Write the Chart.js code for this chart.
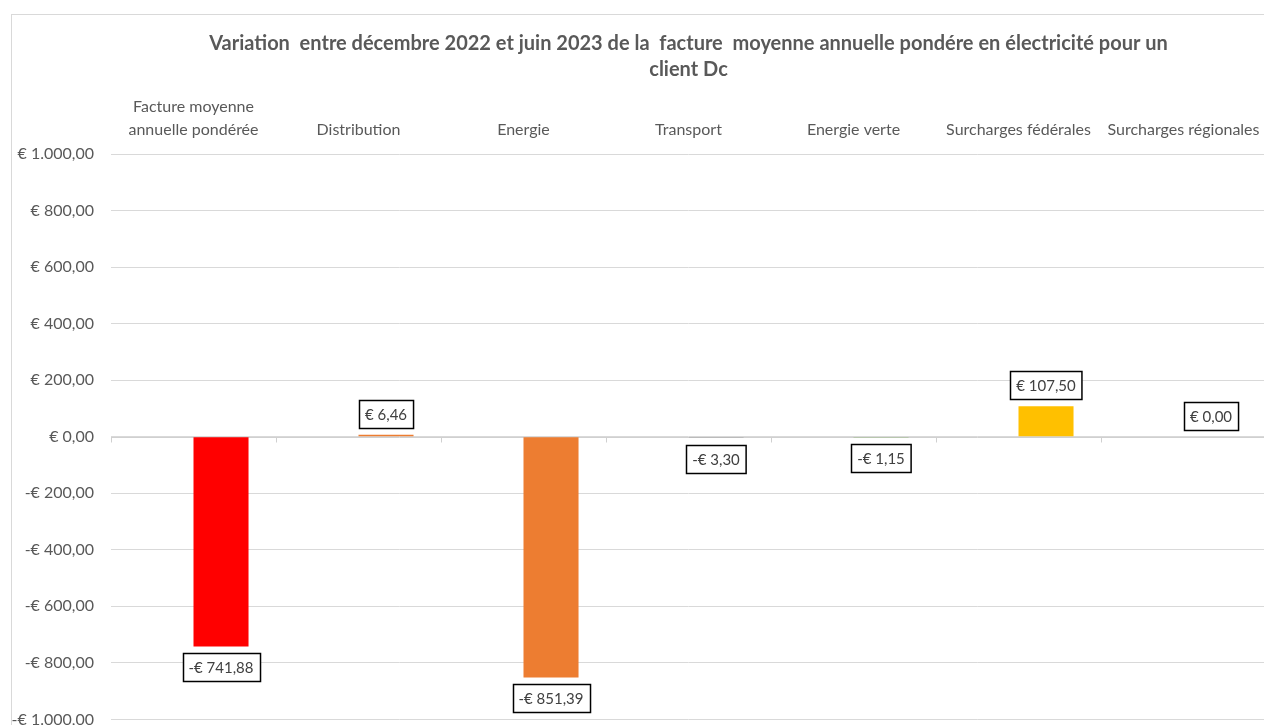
<!DOCTYPE html>
<html lang="fr">
<head>
    <meta charset="UTF-8">
    <title>Variation facture électricité client Dc</title>
    <script src="https://cdn.jsdelivr.net/npm/chart.js"></script>
    <style>
        html, body {
            margin: 0;
            padding: 0;
            background: #ffffff;
            overflow: hidden;
        }
        #wrap {
            width: 1280px;
            height: 746px;
        }
    </style>
</head>
<body>
    <div id="wrap">
        <canvas id="chartCanvas" width="1280" height="746"></canvas>
    </div>

    <script>
        // data
        const categories = [
            ['Facture moyenne', 'annuelle pondérée'],
            'Distribution',
            'Energie',
            'Transport',
            'Energie verte',
            'Surcharges fédérales',
            'Surcharges régionales'
        ];
        const variation = [-741.88, 6.46, -851.39, -3.30, -1.15, 107.50, 0.00];
        const emptySeries = [null, null, null, null, null, null, null];
        const barColors = ['#ff0000', '#ed7d31', '#ed7d31', '#a5a5a5', '#70ad47', '#ffc000', '#5b9bd5'];
        const yMin = -1000;
        const yMax = 1000;
        const yStep = 200;

        const titleLines = [
            'Variation  entre décembre 2022 et juin 2023 de la  facture  moyenne annuelle pondére en électricité pour un',
            'client Dc'
        ];

        const FONT = 'Lato, "Open Sans", sans-serif';

        // € 1.000,00 / -€ 741,88
        function euro(v) {
            const neg = v < 0;
            const parts = Math.abs(v).toFixed(2).split('.');
            const whole = parts[0].replace(/\B(?=(\d{3})+(?!\d))/g, '.');
            return (neg ? '-' : '') + '€ ' + whole + ',' + parts[1];
        }

        // light frame around the chart (right/bottom sides fall outside the shot)
        const framePlugin = {
            id: 'frame',
            beforeDraw(chart) {
                const ctx = chart.ctx;
                ctx.save();
                ctx.strokeStyle = '#d9d9d9';
                ctx.lineWidth = 1;
                ctx.strokeRect(11.5, 14.5, chart.width + 100, chart.height + 100);
                ctx.restore();
            }
        };

        // horizontal axis line at zero with small tick marks between categories
        const zeroAxisPlugin = {
            id: 'zeroAxis',
            beforeDatasetsDraw(chart) {
                const ctx = chart.ctx;
                const x = chart.scales.x;
                const y0 = Math.round(chart.scales.y.getPixelForValue(0)) + 0.5;
                ctx.save();
                ctx.strokeStyle = '#d0d0d0';
                ctx.lineWidth = 1;
                ctx.beginPath();
                ctx.moveTo(chart.chartArea.left, y0);
                ctx.lineTo(chart.chartArea.right, y0);
                for (let i = 0; i <= categories.length; i++) {
                    const px = Math.round(x.getPixelForValue(i - 0.5)) + 0.5;
                    ctx.moveTo(px, y0);
                    ctx.lineTo(px, y0 + 5);
                }
                ctx.stroke();
                ctx.restore();
            }
        };

        // boxed value labels
        const boxLabelPlugin = {
            id: 'boxLabels',
            afterDatasetsDraw(chart) {
                const ctx = chart.ctx;
                const meta = chart.getDatasetMeta(1);
                ctx.save();
                ctx.font = '15px ' + FONT;
                ctx.textAlign = 'center';
                ctx.textBaseline = 'middle';
                meta.data.forEach((bar, i) => {
                    const v = variation[i];
                    const txt = euro(v);
                    const w = ctx.measureText(txt).width + 12;
                    const h = 28;
                    const gap = 7;
                    const barLen = Math.abs(bar.base - bar.y);
                    let top;
                    if (v < 0) {
                        top = Math.max(bar.y, bar.base) + gap;
                    } else {
                        top = Math.min(bar.y, bar.base) - gap - h;
                    }
                    const left = Math.round(bar.x - w / 2) + 0.5;
                    top = Math.round(top) + 0.5;
                    // thin bar outline + grey leader when a tiny bar sits above its label
                    if (v < 0 && barLen > 0.5 && barLen < 5) {
                        const y0 = Math.round(bar.base) + 0.5;
                        ctx.strokeStyle = '#a6a6a6';
                        ctx.lineWidth = 1;
                        ctx.beginPath();
                        ctx.moveTo(bar.x - bar.width / 2, y0 + 1);
                        ctx.lineTo(bar.x + bar.width / 2, y0 + 1);
                        ctx.moveTo(Math.round(bar.x) + 0.5, y0 + 1);
                        ctx.lineTo(Math.round(bar.x) + 0.5, top);
                        ctx.stroke();
                    }
                    ctx.fillStyle = '#ffffff';
                    ctx.fillRect(left, top, w, h);
                    ctx.strokeStyle = '#000000';
                    ctx.lineWidth = 1.5;
                    ctx.strokeRect(left, top, w, h);
                    ctx.fillStyle = '#404040';
                    ctx.fillText(txt, bar.x, top + h / 2 + 1);
                });
                ctx.restore();
            }
        };

        new Chart(document.getElementById('chartCanvas'), {
            type: 'bar',
            data: {
                labels: categories,
                datasets: [
                    {
                        label: 'vide',
                        data: emptySeries,
                        backgroundColor: 'rgba(0,0,0,0)'
                    },
                    {
                        label: 'Variation',
                        data: variation,
                        backgroundColor: barColors,
                        borderWidth: 0
                    }
                ]
            },
            options: {
                responsive: false,
                animation: false,
                categoryPercentage: 0.667,
                barPercentage: 1.0,
                layout: {
                    autoPadding: false,
                    padding: { left: 0, right: 14, top: 0, bottom: 7 }
                },
                plugins: {
                    legend: { display: false },
                    tooltip: { enabled: false },
                    title: {
                        display: true,
                        text: titleLines,
                        fullSize: false,
                        color: '#595959',
                        font: { family: FONT, size: 20, weight: 'bold', lineHeight: 1.3 },
                        padding: { top: 31, bottom: 12 }
                    }
                },
                scales: {
                    x: {
                        position: 'top',
                        offset: true,
                        grid: { display: false, drawTicks: false },
                        border: { display: false },
                        ticks: {
                            color: '#595959',
                            font: { family: FONT, size: 16, lineHeight: 1.44 },
                            padding: 13,
                            maxRotation: 0,
                            autoSkip: false
                        },
                        afterFit(scale) {
                            scale.height = 59;
                        }
                    },
                    y: {
                        min: yMin,
                        max: yMax,
                        grid: { color: '#d9d9d9', drawTicks: false },
                        border: { display: false },
                        ticks: {
                            stepSize: yStep,
                            color: '#595959',
                            font: { family: FONT, size: 16 },
                            padding: 17,
                            callback: (v) => euro(v)
                        },
                        afterFit(scale) {
                            scale.width = 111;
                        }
                    }
                }
            },
            plugins: [framePlugin, zeroAxisPlugin, boxLabelPlugin]
        });
    </script>
</body>
</html>
